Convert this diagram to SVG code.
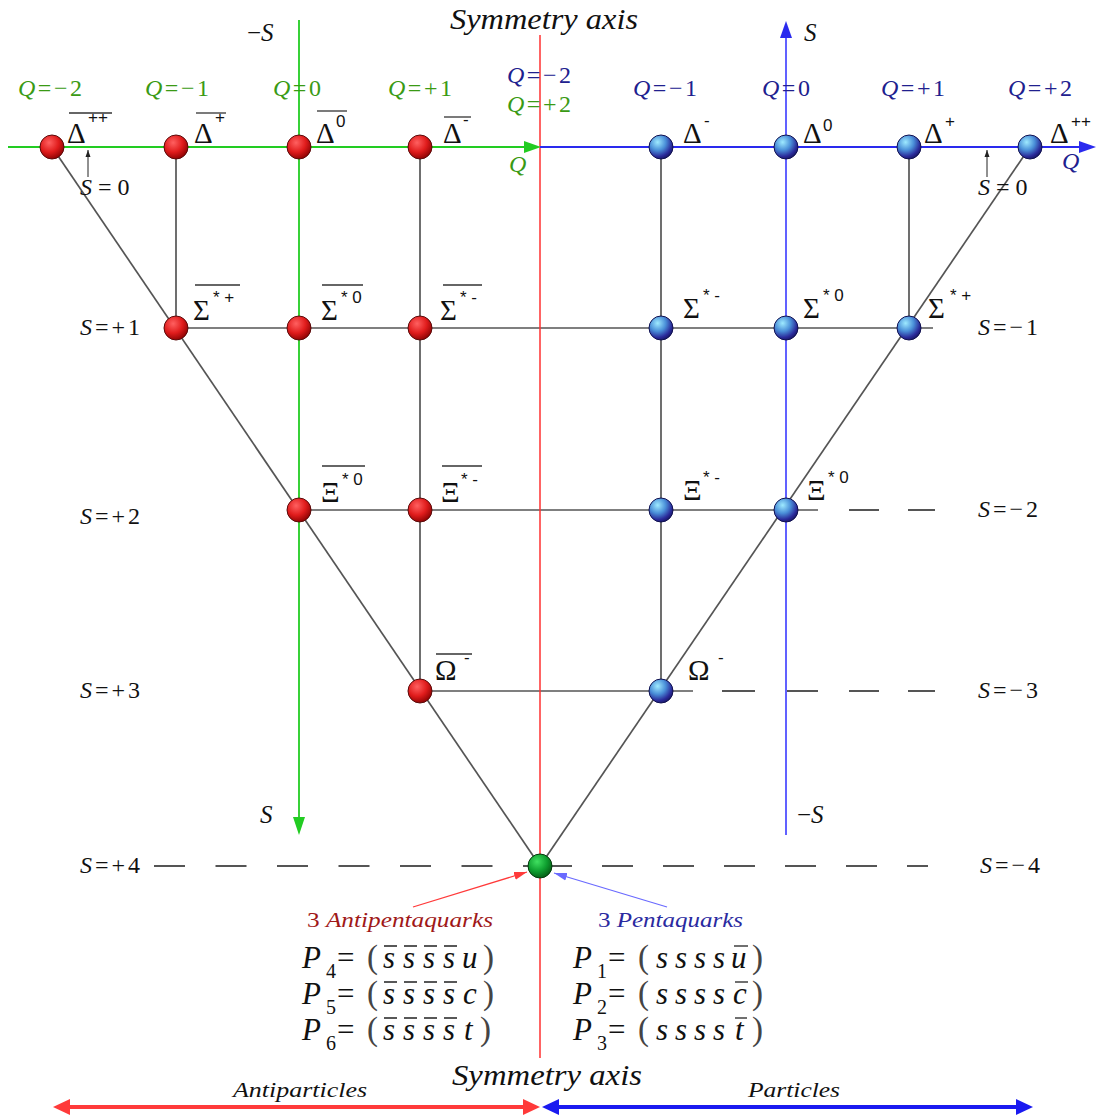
<svg xmlns="http://www.w3.org/2000/svg" width="1101" height="1115" viewBox="0 0 1101 1115">
<style>
text{font-family:"Liberation Serif","Times New Roman",serif;fill:#111}
.it{font-style:italic}
.g{font-size:29px}
.sup{font-family:"Liberation Sans",Arial,sans-serif;font-size:17px}
.ql{font-size:24px;letter-spacing:2.5px}
.qg{fill:#3a9a14}
.qb{fill:#20208e}
.sl{font-size:24px;letter-spacing:3px}
.ol{stroke:#333;stroke-width:1.3}
.gl{stroke:#555;stroke-width:1.7;fill:none}
.dl{stroke:#555;stroke-width:2.2;fill:none}
.f{font-size:31px}
.fs{font-size:20px}
.pr{font-size:33px;fill:#444}
.bar{stroke:#222;stroke-width:1.3}
.nr{fill:url(#gr);stroke:#5a0a0a;stroke-width:1}
.nb{fill:url(#gb);stroke:#101050;stroke-width:1}
</style>
<defs>
<radialGradient id="gr" cx="0.38" cy="0.32" r="0.72"><stop offset="0" stop-color="#ff6060"/><stop offset="0.55" stop-color="#e01c1c"/><stop offset="1" stop-color="#8a0202"/></radialGradient>
<radialGradient id="gb" cx="0.36" cy="0.3" r="0.75"><stop offset="0" stop-color="#9eeaff"/><stop offset="0.45" stop-color="#4a8fd8"/><stop offset="0.8" stop-color="#2a2a9a"/><stop offset="1" stop-color="#161660"/></radialGradient>
<radialGradient id="gg" cx="0.38" cy="0.32" r="0.72"><stop offset="0" stop-color="#40e060"/><stop offset="0.55" stop-color="#0fa030"/><stop offset="1" stop-color="#045a14"/></radialGradient>
<marker id="ak" markerWidth="8" markerHeight="8" refX="7" refY="4" orient="auto" markerUnits="userSpaceOnUse"><path d="M0,1.5 L7,4 L0,6.5 Z" fill="#222"/></marker>
<marker id="ar" markerWidth="14" markerHeight="10" refX="13" refY="5" orient="auto" markerUnits="userSpaceOnUse"><path d="M0,1 L13,5 L0,9 Z" fill="#ff3a3a"/></marker>
<marker id="ab" markerWidth="14" markerHeight="10" refX="13" refY="5" orient="auto" markerUnits="userSpaceOnUse"><path d="M0,1 L13,5 L0,9 Z" fill="#6a6aff"/></marker>
</defs>
<rect width="1101" height="1115" fill="#fff"/>

<g id="connectors">
  <line class="gl" x1="52" y1="147" x2="540" y2="866"/>
  <line class="gl" x1="1030" y1="147" x2="540" y2="866"/>
  <line class="gl" x1="176" y1="147" x2="176" y2="328"/>
  <line class="gl" x1="420" y1="147" x2="420" y2="691"/>
  <line class="gl" x1="661" y1="147" x2="661" y2="691"/>
  <line class="gl" x1="909" y1="147" x2="909" y2="328"/>
  <line class="gl" x1="176" y1="328" x2="933" y2="328"/>
  <line class="gl" x1="299" y1="510" x2="818" y2="510"/>
  <line class="gl" x1="420" y1="691" x2="693" y2="691"/>
  <path class="dl" d="M849,510 H879 M908,510 H935"/>
  <path class="dl" d="M722,691 H755 M787,691 H818 M849,691 H879 M908,691 H935"/>
  <line class="dl" x1="154" y1="866" x2="540" y2="866" stroke-dasharray="31 30.5"/>
  <line class="dl" x1="541" y1="866" x2="928" y2="866" stroke-dasharray="31 30"/>
  <line x1="540" y1="35" x2="540" y2="1058" stroke="#ff3030" stroke-width="1.5"/>
  <line x1="8" y1="147" x2="526" y2="147" stroke="#22cc22" stroke-width="1.8"/>
  <path d="M541,147 L524,141 L524,153 Z" fill="#22cc22"/>
  <line x1="299" y1="20" x2="299" y2="820" stroke="#22cc22" stroke-width="1.8"/>
  <path d="M299,835 L293,817 L305,817 Z" fill="#22cc22"/>
  <line x1="540" y1="147" x2="1080" y2="147" stroke="#2a2aee" stroke-width="1.8"/>
  <path d="M1096,147 L1079,141 L1079,153 Z" fill="#2a2aee"/>
  <line x1="786" y1="835" x2="786" y2="36" stroke="#5050ff" stroke-width="1.8"/>
  <path d="M786,21 L780,38 L792,38 Z" fill="#2a2aee"/>
  <line x1="88" y1="177" x2="88" y2="150" stroke="#222" stroke-width="1" marker-end="url(#ak)"/>
  <line x1="987" y1="177" x2="987" y2="150" stroke="#222" stroke-width="1" marker-end="url(#ak)"/>
  <line x1="413" y1="907" x2="527" y2="872" stroke="#ff3a3a" stroke-width="1.3" marker-end="url(#ar)"/>
  <line x1="667" y1="907" x2="554" y2="873" stroke="#6a6aff" stroke-width="1.3" marker-end="url(#ab)"/>
  <line x1="66" y1="1107" x2="527" y2="1107" stroke="#ff3a3a" stroke-width="4"/>
  <path d="M53,1107 L70,1099 L70,1115 Z M540,1107 L523,1099 L523,1115 Z" fill="#ff3a3a"/>
  <line x1="556" y1="1107" x2="1019" y2="1107" stroke="#1a1af0" stroke-width="4"/>
  <path d="M542,1107 L559,1099 L559,1115 Z M1033,1107 L1016,1099 L1016,1115 Z" fill="#1a1af0"/>
</g>

<g id="axis-labels">
  <text class="it" x="450" y="29" font-size="30" textLength="188" lengthAdjust="spacingAndGlyphs">Symmetry axis</text>
  <text class="it" x="452" y="1085" font-size="30" textLength="190" lengthAdjust="spacingAndGlyphs">Symmetry axis</text>
  <text class="it" x="233" y="1097" font-size="22" textLength="134" lengthAdjust="spacingAndGlyphs">Antiparticles</text>
  <text class="it" x="748" y="1097" font-size="22" textLength="92" lengthAdjust="spacingAndGlyphs">Particles</text>
  <text x="247" y="41" font-size="25">−<tspan class="it">S</tspan></text>
  <text class="it" x="804" y="41" font-size="25">S</text>
  <text class="it" x="260" y="823" font-size="25">S</text>
  <text x="797" y="823" font-size="25">−<tspan class="it">S</tspan></text>
  <text class="it qg" x="509" y="172" font-size="24">Q</text>
  <text class="it qb" x="1062" y="169" font-size="24">Q</text>
  <text class="ql qg" x="18" y="96"><tspan class="it">Q</tspan>=−2</text>
  <text class="ql qg" x="145" y="96"><tspan class="it">Q</tspan>=−1</text>
  <text class="ql qg" x="273" y="96"><tspan class="it">Q</tspan>=0</text>
  <text class="ql qg" x="388" y="96"><tspan class="it">Q</tspan>=+1</text>
  <text class="ql qb" x="507" y="83"><tspan class="it">Q</tspan>=−2</text>
  <text class="ql qg" x="507" y="112"><tspan class="it">Q</tspan>=+2</text>
  <text class="ql qb" x="633" y="96"><tspan class="it">Q</tspan>=−1</text>
  <text class="ql qb" x="762" y="96"><tspan class="it">Q</tspan>=0</text>
  <text class="ql qb" x="881" y="96"><tspan class="it">Q</tspan>=+1</text>
  <text class="ql qb" x="1008" y="96"><tspan class="it">Q</tspan>=+2</text>
  <text x="80" y="195" font-size="24" xml:space="preserve"><tspan class="it">S</tspan> = 0</text>
  <text x="978" y="195" font-size="24" xml:space="preserve"><tspan class="it">S</tspan> = 0</text>
  <text class="sl" x="80" y="335"><tspan class="it">S</tspan>=+1</text>
  <text class="sl" x="80" y="524"><tspan class="it">S</tspan>=+2</text>
  <text class="sl" x="80" y="698"><tspan class="it">S</tspan>=+3</text>
  <text class="sl" x="80" y="873"><tspan class="it">S</tspan>=+4</text>
  <text class="sl" x="978" y="335"><tspan class="it">S</tspan>=−1</text>
  <text class="sl" x="978" y="517"><tspan class="it">S</tspan>=−2</text>
  <text class="sl" x="978" y="698"><tspan class="it">S</tspan>=−3</text>
  <text class="sl" x="980" y="873"><tspan class="it">S</tspan>=−4</text>
</g>

<g id="aDpp"><circle class="nr" cx="52" cy="147" r="12"/><text class="g" x="67" y="143">Δ</text><text class="sup" x="88" y="123">++</text><line class="ol" x1="69" y1="113" x2="112" y2="113"/></g>
<g id="aDp"><circle class="nr" cx="176" cy="147" r="12"/><text class="g" x="194" y="143">Δ</text><text class="sup" x="215" y="123">+</text><line class="ol" x1="196" y1="113" x2="226" y2="113"/></g>
<g id="aD0"><circle class="nr" cx="299" cy="147" r="12"/><text class="g" x="316" y="143">Δ</text><text class="sup" x="336" y="127" font-size="20">0</text><line class="ol" x1="317" y1="111" x2="347" y2="111"/></g>
<g id="aDm"><circle class="nr" cx="420" cy="147" r="12"/><text class="g" x="443" y="143">Δ</text><text class="sup" x="463" y="125">-</text><line class="ol" x1="444" y1="117" x2="471" y2="117"/></g>
<g id="Dm"><circle class="nb" cx="661" cy="147" r="12"/><text class="g" x="683" y="143">Δ</text><text class="sup" x="704" y="126">-</text></g>
<g id="D0"><circle class="nb" cx="786" cy="147" r="12"/><text class="g" x="803" y="143">Δ</text><text class="sup" x="823" y="131" font-size="20">0</text></g>
<g id="Dp"><circle class="nb" cx="909" cy="147" r="12"/><text class="g" x="924" y="143">Δ</text><text class="sup" x="945" y="127">+</text></g>
<g id="Dpp"><circle class="nb" cx="1030" cy="147" r="12"/><text class="g" x="1050" y="143">Δ</text><text class="sup" x="1071" y="127">++</text></g>
<g id="aSp"><circle class="nr" cx="176" cy="328" r="12"/><text class="g" x="193" y="320">Σ</text><text class="sup" x="213" y="303">* +</text><line class="ol" x1="195" y1="285" x2="240" y2="285"/></g>
<g id="aS0"><circle class="nr" cx="299" cy="328" r="12"/><text class="g" x="321" y="320">Σ</text><text class="sup" x="341" y="303">* 0</text><line class="ol" x1="322" y1="285" x2="363" y2="285"/></g>
<g id="aSm"><circle class="nr" cx="420" cy="328" r="12"/><text class="g" x="440" y="320">Σ</text><text class="sup" x="460" y="303">* -</text><line class="ol" x1="443" y1="285" x2="482" y2="285"/></g>
<g id="Sm"><circle class="nb" cx="661" cy="328" r="12"/><text class="g" x="683" y="318">Σ</text><text class="sup" x="703" y="301">* -</text></g>
<g id="S0"><circle class="nb" cx="786" cy="328" r="12"/><text class="g" x="803" y="318">Σ</text><text class="sup" x="823" y="301">* 0</text></g>
<g id="Sp"><circle class="nb" cx="909" cy="328" r="12"/><text class="g" x="928" y="318">Σ</text><text class="sup" x="950" y="301">* +</text></g>
<g id="aX0"><circle class="nr" cx="299" cy="510" r="12"/><text class="g" x="321" y="502">Ξ</text><text class="sup" x="342" y="485">* 0</text><line class="ol" x1="322" y1="466" x2="365" y2="466"/></g>
<g id="aXm"><circle class="nr" cx="420" cy="510" r="12"/><text class="g" x="441" y="502">Ξ</text><text class="sup" x="461" y="485">* -</text><line class="ol" x1="442" y1="466" x2="482" y2="466"/></g>
<g id="Xm"><circle class="nb" cx="661" cy="510" r="12"/><text class="g" x="683" y="500">Ξ</text><text class="sup" x="703" y="483">* -</text></g>
<g id="X0"><circle class="nb" cx="786" cy="510" r="12"/><text class="g" x="807" y="500">Ξ</text><text class="sup" x="828" y="483">* 0</text></g>
<g id="aOm"><circle class="nr" cx="420" cy="691" r="12"/><text class="g" x="435" y="680">Ω</text><text class="sup" x="464" y="663">-</text><line class="ol" x1="436" y1="654" x2="472" y2="654"/></g>
<g id="Om"><circle class="nb" cx="661" cy="691" r="12"/><text class="g" x="688" y="680">Ω</text><text class="sup" x="718" y="663">-</text></g>
<g id="P"><circle cx="540" cy="866" r="12" fill="url(#gg)" stroke="#033a0c" stroke-width="1"/></g>

<g id="antipentaquarks">
  <text x="307" y="927" font-size="21" style="fill:#a01818" textLength="186" lengthAdjust="spacingAndGlyphs">3 <tspan class="it">Antipentaquarks</tspan></text>
  <text class="f it" x="302" y="968">P</text><text class="fs" x="326" y="978">4</text><text class="f" x="337" y="968">=</text><text class="pr" x="367" y="968">(</text>
  <text class="f it" x="383" y="968">s</text><text class="f it" x="403" y="968">s</text><text class="f it" x="423" y="968">s</text><text class="f it" x="443" y="968">s</text><text class="f it" x="462" y="968">u</text><text class="pr" x="483" y="968">)</text>
  <path class="bar" d="M384,946 H397 M404,946 H417 M424,946 H437 M444,946 H457"/>
  <text class="f it" x="302" y="1004">P</text><text class="fs" x="326" y="1014">5</text><text class="f" x="337" y="1004">=</text><text class="pr" x="367" y="1004">(</text>
  <text class="f it" x="383" y="1004">s</text><text class="f it" x="403" y="1004">s</text><text class="f it" x="423" y="1004">s</text><text class="f it" x="443" y="1004">s</text><text class="f it" x="463" y="1004">c</text><text class="pr" x="483" y="1004">)</text>
  <path class="bar" d="M384,982 H397 M404,982 H417 M424,982 H437 M444,982 H457"/>
  <text class="f it" x="302" y="1040">P</text><text class="fs" x="326" y="1050">6</text><text class="f" x="337" y="1040">=</text><text class="pr" x="367" y="1040">(</text>
  <text class="f it" x="383" y="1040">s</text><text class="f it" x="403" y="1040">s</text><text class="f it" x="423" y="1040">s</text><text class="f it" x="443" y="1040">s</text><text class="f it" x="464" y="1040">t</text><text class="pr" x="480" y="1040">)</text>
  <path class="bar" d="M384,1018 H397 M404,1018 H417 M424,1018 H437 M444,1018 H457"/>
</g>
<g id="pentaquarks">
  <text x="598" y="927" font-size="21" style="fill:#2a2aa0" textLength="145" lengthAdjust="spacingAndGlyphs">3 <tspan class="it">Pentaquarks</tspan></text>
  <text class="f it" x="573" y="968">P</text><text class="fs" x="597" y="978">1</text><text class="f" x="608" y="968">=</text><text class="pr" x="638" y="968">(</text>
  <text class="f it" x="656" y="968">s</text><text class="f it" x="675" y="968">s</text><text class="f it" x="694" y="968">s</text><text class="f it" x="713" y="968">s</text><text class="f it" x="731" y="968">u</text><text class="pr" x="752" y="968">)</text>
  <path class="bar" d="M734,946 H748"/>
  <text class="f it" x="573" y="1004">P</text><text class="fs" x="597" y="1014">2</text><text class="f" x="608" y="1004">=</text><text class="pr" x="638" y="1004">(</text>
  <text class="f it" x="656" y="1004">s</text><text class="f it" x="675" y="1004">s</text><text class="f it" x="694" y="1004">s</text><text class="f it" x="713" y="1004">s</text><text class="f it" x="733" y="1004">c</text><text class="pr" x="752" y="1004">)</text>
  <path class="bar" d="M735,982 H748"/>
  <text class="f it" x="573" y="1040">P</text><text class="fs" x="597" y="1050">3</text><text class="f" x="608" y="1040">=</text><text class="pr" x="638" y="1040">(</text>
  <text class="f it" x="656" y="1040">s</text><text class="f it" x="675" y="1040">s</text><text class="f it" x="694" y="1040">s</text><text class="f it" x="713" y="1040">s</text><text class="f it" x="735" y="1040">t</text><text class="pr" x="752" y="1040">)</text>
  <path class="bar" d="M735,1018 H747"/>
</g>
</svg>
